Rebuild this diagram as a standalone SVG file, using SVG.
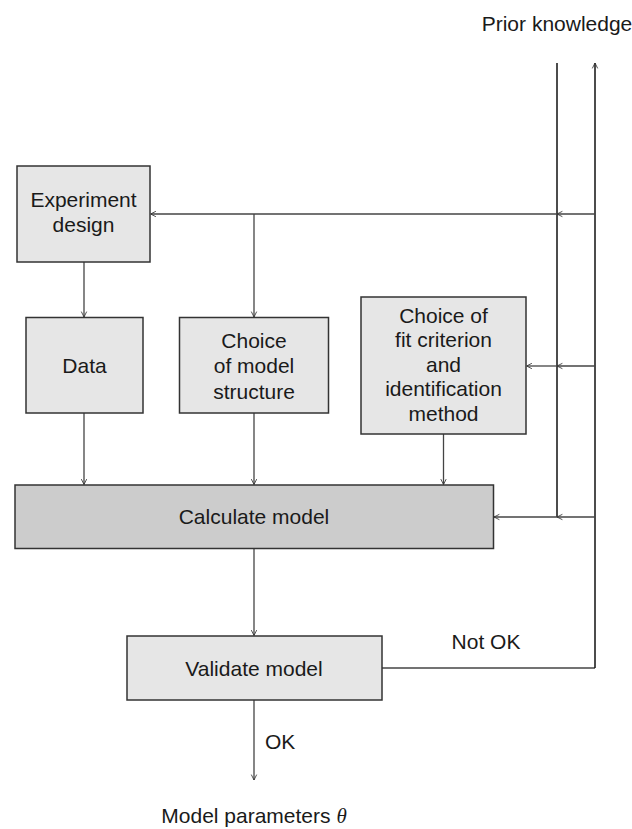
<svg xmlns="http://www.w3.org/2000/svg" width="632" height="829" viewBox="0 0 632 829">
<style>
text { font-family: "Liberation Sans", Arial, sans-serif; font-size: 21px; fill: #1a1a1a; text-anchor: middle; }
.box { fill: #e6e6e6; stroke: #333; stroke-width: 1.5; }
.dark { fill: #cccccc; stroke: #333; stroke-width: 1.5; }
.c { fill: none; stroke: #444; stroke-width: 1.3; }
.k { fill: none; stroke: #111; stroke-width: 1.5; }
</style>
<defs>
<marker id="arr" markerUnits="userSpaceOnUse" viewBox="0 0 10 10" refX="10" refY="5" markerWidth="6" markerHeight="9" orient="auto">
<path d="M1,0.5 L10,5 L1,9.5" fill="none" stroke="#333" stroke-width="1.4"/>
</marker>
</defs>
<rect width="632" height="829" fill="#ffffff"/>

<g id="connectors">
<!-- Experiment design -> Data -->
<line class="c" x1="84" y1="262" x2="84" y2="317" marker-end="url(#arr)"/>
<!-- Data, structure, fit -> Calculate -->
<line class="c" x1="84" y1="413" x2="84" y2="484.5" marker-end="url(#arr)"/>
<line class="c" x1="254" y1="413" x2="254" y2="484.5" marker-end="url(#arr)"/>
<line class="c" x1="443.5" y1="434" x2="443.5" y2="484.5" marker-end="url(#arr)"/>
<!-- Calculate -> Validate -->
<line class="c" x1="254" y1="549" x2="254" y2="635.5" marker-end="url(#arr)"/>
<!-- Validate -> OK -->
<line class="c" x1="254" y1="700" x2="254" y2="780" marker-end="url(#arr)"/>
<!-- Not OK feedback -->
<polyline class="c" points="382,668 595,668"/>
<line class="k" x1="595" y1="668" x2="595" y2="63" marker-end="url(#arr)"/>
<!-- Prior knowledge input line -->
<line class="k" x1="557" y1="63" x2="557" y2="517"/>
<!-- top horizontal -->
<line class="c" x1="595" y1="214" x2="557" y2="214" marker-end="url(#arr)"/>
<line class="c" x1="557" y1="214" x2="150.5" y2="214" marker-end="url(#arr)"/>
<line class="c" x1="254" y1="214" x2="254" y2="317" marker-end="url(#arr)"/>
<!-- fit criterion horizontal -->
<line class="c" x1="595" y1="366" x2="557" y2="366" marker-end="url(#arr)"/>
<line class="c" x1="557" y1="366" x2="526.5" y2="366" marker-end="url(#arr)"/>
<!-- calculate horizontal -->
<line class="c" x1="595" y1="517" x2="557" y2="517" marker-end="url(#arr)"/>
<line class="c" x1="557" y1="517" x2="494" y2="517" marker-end="url(#arr)"/>
</g>

<g id="experiment-design">
<rect class="box" x="17" y="166" width="133" height="96"/>
<text x="83.5" y="207">Experiment</text>
<text x="83.5" y="232">design</text>
</g>

<g id="data">
<rect class="box" x="26" y="317.5" width="117" height="95.5"/>
<text x="84.5" y="373">Data</text>
</g>

<g id="model-structure">
<rect class="box" x="179.5" y="317.5" width="149" height="95.5"/>
<text x="254" y="347.5">Choice</text>
<text x="254" y="373.3">of model</text>
<text x="254" y="399">structure</text>
</g>

<g id="fit-criterion">
<rect class="box" x="361" y="297" width="165" height="137"/>
<text x="443.5" y="323">Choice of</text>
<text x="443.5" y="347">fit criterion</text>
<text x="443.5" y="371.5">and</text>
<text x="443.5" y="396">identification</text>
<text x="443.5" y="420.5">method</text>
</g>

<g id="calculate-model">
<rect class="dark" x="15" y="485" width="478.5" height="63.5"/>
<text x="254" y="524">Calculate model</text>
</g>

<g id="validate-model">
<rect class="box" x="127" y="636" width="255" height="64"/>
<text x="254" y="676">Validate model</text>
</g>

<g id="labels">
<text x="557" y="31">Prior knowledge</text>
<text x="486" y="649">Not OK</text>
<text x="265" y="749" style="text-anchor:start">OK</text>
<text x="254" y="823">Model parameters <tspan font-family="Liberation Serif, serif" font-style="italic">θ</tspan></text>
</g>
</svg>
